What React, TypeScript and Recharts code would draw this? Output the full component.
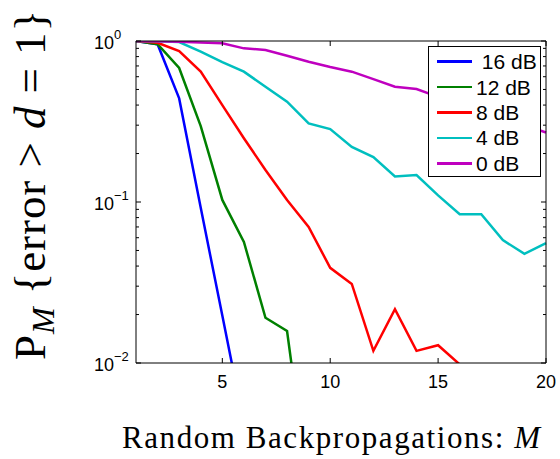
import React from 'react';
import { LineChart, Line, XAxis, YAxis, Label } from 'recharts';

// number of random backpropagations M
const steps = [1, 2, 3, 4, 5, 6, 7, 8, 9, 10, 11, 12, 13, 14, 15, 16, 17, 18, 19, 20];

// P_M{error > d = 1} per SNR (null = well below the plot floor)
const snr16 = [1, 0.955, 0.44, 0.092, 0.0197, 0.0042, null, null, null, null, null, null, null, null, null, null, null, null, null, null];
const snr12 = [1, 0.955, 0.68, 0.296, 0.103, 0.0565, 0.0191, 0.0158, 0.0016, null, null, null, null, null, null, null, null, null, null, null];
const snr8 = [1, 0.975, 0.867, 0.645, 0.4, 0.249, 0.158, 0.103, 0.07, 0.039, 0.031, 0.0119, 0.0216, 0.0119, 0.0129, 0.0098, 0.005, null, null, null];
const snr4 = [1, 0.998, 0.985, 0.86, 0.74, 0.645, 0.52, 0.42, 0.308, 0.284, 0.22, 0.19, 0.144, 0.147, 0.11, 0.084, 0.084, 0.058, 0.0476, 0.0555];
const snr0 = [1, 0.998, 0.99, 0.98, 0.968, 0.9, 0.88, 0.81, 0.744, 0.69, 0.645, 0.58, 0.52, 0.503, 0.45, 0.41, 0.37, 0.33, 0.3, 0.27];

const xTicks = [5, 10, 15, 20];
const yTicks = [
  0.01, 0.02, 0.03, 0.04, 0.05, 0.06, 0.07, 0.08, 0.09,
  0.1, 0.2, 0.3, 0.4, 0.5, 0.6, 0.7, 0.8, 0.9, 1,
];
const decades = [0.01, 0.1, 1];

const series = [
  { key: 'snr16', name: ' 16 dB', color: '#0000ff', values: snr16 },
  { key: 'snr12', name: '12 dB', color: '#008000', values: snr12 },
  { key: 'snr8', name: '8 dB', color: '#ff0000', values: snr8 },
  { key: 'snr4', name: '4 dB', color: '#00bfbf', values: snr4 },
  { key: 'snr0', name: '0 dB', color: '#bf00bf', values: snr0 },
];

const data = steps.map((m, i) => {
  const row: any = { m };
  series.forEach(s => { row[s.key] = s.values[i]; });
  return row;
});

const sans = '"Liberation Sans", Arial, Helvetica, sans-serif';
const serif = '"Liberation Serif", "Times New Roman", serif';

const tickLen = (v: number) => (decades.includes(v) ? 5 : 3);

const BottomTick = ({ x, y, payload }: any) => (
  <g>
    <line x1={x} x2={x} y1={y} y2={y - 5} stroke="#000" />
    <text x={x} y={y + 25} textAnchor="middle" style={{ fontFamily: sans, fontSize: 18 }} fill="#000">
      {payload.value}
    </text>
  </g>
);

const TopTick = ({ x, y }: any) => <line x1={x} x2={x} y1={y} y2={y + 5} stroke="#000" />;

const LeftTick = ({ x, y, payload }: any) => {
  const v = payload.value;
  const exp = Math.round(Math.log10(v));
  return (
    <g>
      <line x1={x} x2={x + tickLen(v)} y1={y} y2={y} stroke="#000" />
      {decades.includes(v) && (
        <text x={x - 42} y={y + 8} style={{ fontFamily: sans, fontSize: 18 }} fill="#000">
          10
          <tspan dy={-10} style={{ fontSize: 13 }}>{exp === 0 ? '0' : '\u2212' + -exp}</tspan>
        </text>
      )}
    </g>
  );
};

const RightTick = ({ x, y, payload }: any) => (
  <line x1={x} x2={x - tickLen(payload.value)} y1={y} y2={y} stroke="#000" />
);

const YTitle = () => (
  <text
    transform="translate(45,185) rotate(-90)"
    textAnchor="middle"
    style={{ fontFamily: serif, fontSize: 45 }}
    fill="#000"
    textLength={350}
    lengthAdjust="spacing"
  >
    P
    <tspan style={{ fontStyle: 'italic', fontSize: 32 }} dy={9}>M</tspan>
    <tspan dy={-9}> {'{'}error &gt; </tspan>
    <tspan style={{ fontStyle: 'italic' }}>d</tspan>
    <tspan> = 1{'}'}</tspan>
  </text>
);

const XTitle = () => (
  <text
    x={331}
    y={448}
    textAnchor="middle"
    style={{ fontFamily: serif, fontSize: 31 }}
    fill="#000"
    textLength={418}
    lengthAdjust="spacing"
  >
    Random Backpropagations: <tspan style={{ fontStyle: 'italic' }}>M</tspan>
  </text>
);

const LegendBox = () => (
  <div
    style={{
      position: 'absolute',
      left: 428,
      top: 46,
      width: 111,
      height: 127,
      paddingTop: 2,
      border: '1px solid #000',
      background: '#fff',
      color: '#000',
    }}
  >
    {series.map(s => (
      <div key={s.key} style={{ display: 'flex', alignItems: 'center', height: 25.4 }}>
        <span style={{ display: 'inline-block', width: 35, height: 2.5, background: s.color, marginLeft: 8, marginRight: 4 }} />
        <span style={{ whiteSpace: 'pre', lineHeight: '25px', fontFamily: sans, fontSize: '21px' }}>{s.name}</span>
      </div>
    ))}
  </div>
);

export default function App() {
  return (
    <div style={{ position: 'absolute', left: 0, top: 0, width: 560, height: 459, background: '#fff' }}>
      <LineChart width={560} height={459} data={data} margin={{ top: 0, right: 0, bottom: 0, left: 0 }}>
        <XAxis
          dataKey="m"
          type="number"
          domain={[1, 20]}
          ticks={xTicks}
          interval={0}
          height={96}
          tickSize={0}
          tickMargin={0}
          tickLine={false}
          tick={BottomTick}
          axisLine={{ stroke: '#000' }}
        >
          <Label content={XTitle} />
        </XAxis>
        <XAxis
          xAxisId="top"
          orientation="top"
          dataKey="m"
          type="number"
          domain={[1, 20]}
          ticks={xTicks}
          interval={0}
          height={41}
          tickSize={0}
          tickMargin={0}
          tickLine={false}
          tick={TopTick}
          axisLine={{ stroke: '#000' }}
        />
        <YAxis
          scale="log"
          type="number"
          domain={[0.01, 1]}
          allowDataOverflow
          ticks={yTicks}
          interval={0}
          width={136}
          tickSize={0}
          tickMargin={0}
          tickLine={false}
          tick={LeftTick}
          axisLine={{ stroke: '#000' }}
        >
          <Label content={YTitle} />
        </YAxis>
        <YAxis
          yAxisId="right"
          orientation="right"
          scale="log"
          type="number"
          domain={[0.01, 1]}
          allowDataOverflow
          ticks={yTicks}
          interval={0}
          width={14}
          tickSize={0}
          tickMargin={0}
          tickLine={false}
          tick={RightTick}
          axisLine={{ stroke: '#000' }}
        />
        {series.map(s => (
          <Line
            key={s.key}
            dataKey={s.key}
            name={s.name}
            stroke={s.color}
            strokeWidth={2.5}
            dot={false}
            type="linear"
            isAnimationActive={false}
          />
        ))}
      </LineChart>
      <LegendBox />
    </div>
  );
}
